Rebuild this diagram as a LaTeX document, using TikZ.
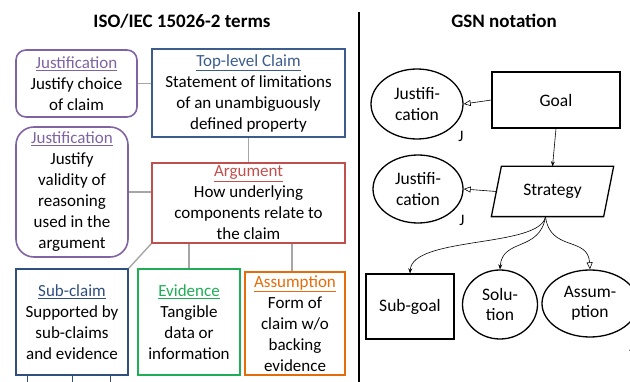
\documentclass[tikz,border=0pt]{standalone}
\usepackage{fontspec}
\setmainfont{Carlito}
\usetikzlibrary{shapes.geometric,arrows.meta}
\definecolor{jpurple}{HTML}{8064A2}
\definecolor{tblue}{HTML}{3B5C8C}
\definecolor{sblue}{HTML}{2F4F80}
\definecolor{ared}{HTML}{C0504D}
\definecolor{egreen}{HTML}{1FAE55}
\definecolor{aorange}{HTML}{E46C0A}
\definecolor{cgray}{HTML}{A6A6A6}
\tikzset{
  lbox/.style={draw, line width=1.6pt, inner sep=0pt, align=center,
    font=\fontsize{17}{21}\selectfont},
  conn/.style={draw=cgray, line width=1.4pt},
  gsn/.style={draw, line width=1.3pt, inner sep=0pt, align=center,
    font=\fontsize{17.5}{20.5}\selectfont},
  gell/.style={gsn, ellipse},
  gline/.style={draw, line width=0.6pt},
  openarr/.style={gline, -{Triangle[open, length=7pt, width=6pt]}},
  fillarr/.style={gline, -{Stealth[length=5pt, width=4pt]}},
  lab/.style={font=\fontsize{16}{18}\selectfont, inner sep=0pt},
  ttl/.style={font=\fontsize{19}{22}\selectfont\bfseries, inner sep=0pt}
}
\begin{document}
\begin{tikzpicture}[x=1pt, y=-1pt]
\useasboundingbox (0,0) rectangle (630,382);
% titles and divider
\node[ttl] (t1) at (182,21) {ISO/IEC 15026-2 terms};
\node[ttl] (t2) at (504,21) {GSN notation};
\draw[line width=1.2pt] (359,12) -- (359,382);
% left side boxes
\node[lbox, draw=jpurple, rounded corners=10pt, minimum width=121pt, minimum height=67pt] (j1) at (76.5,83.5)
  {{\color{jpurple}\underline{Justification}}\\Justify choice\\of claim};
\node[lbox, draw=tblue, minimum width=193pt, minimum height=88pt] (tlc) at (248.5,93)
  {{\color{tblue}\underline{Top-level Claim}}\\Statement of limitations\\of an unambiguously\\defined property};
\node[lbox, draw=jpurple, rounded corners=18pt, minimum width=112pt, minimum height=130pt] (j2) at (72,192)
  {{\color{jpurple}\underline{Justification}}\\Justify\\validity of\\reasoning\\used in the\\argument};
\node[lbox, draw=ared, minimum width=193pt, minimum height=80pt] (arg) at (248.5,203)
  {{\color{ared}\underline{Argument}}\\How underlying\\components relate to\\the claim};
\node[lbox, draw=sblue, minimum width=112pt, minimum height=106pt] (sub) at (72,322)
  {{\color{sblue}\underline{Sub-claim}}\\Supported by\\sub-claims\\and evidence};
\node[lbox, draw=egreen, minimum width=102pt, minimum height=106pt] (evid) at (189,322)
  {{\color{egreen}\underline{Evidence}}\\Tangible\\data or\\information};
\node[lbox, draw=aorange, minimum width=100pt, minimum height=103pt] (assu) at (295,323.5)
  {{\color{aorange}\underline{Assumption}}\\Form of\\claim w/o\\backing\\evidence};
% left connectors
\draw[conn] (j1.east) -- (j1.east -| tlc.west);
\draw[conn] (tlc.south) -- (arg.north);
\draw[conn] (j2.east) -- (j2.east -| arg.west);
\draw[conn] (arg.south west) -- (sub.north east);
\draw[conn] (evid.north |- arg.south) -- (evid.north);
\draw[conn] ([xshift=-3pt]assu.north |- arg.south) -- ([xshift=-3pt]assu.north);
\draw[draw=sblue, line width=1pt] ([xshift=-45pt]sub.south) -- +(0,8);
\draw[draw=sblue, line width=1pt] (sub.south) -- +(0,8);
\draw[draw=sblue, line width=1pt] ([xshift=38pt]sub.south) -- +(0,8);
% GSN side
\node[gell, minimum width=92pt, minimum height=70pt] (gj1) at (417,104) {Justifi-\\cation};
\node[lab] (jl1) at (461,136) {J};
\node[gsn, minimum width=128pt, minimum height=56pt] (goal) at (556,100) {Goal};
\node[gsn, draw=none, minimum width=111pt, minimum height=49pt] (strat) at (552.5,191.5) {Strategy};
\draw[line width=1.3pt] ([xshift=-5pt]strat.south west) -- ([xshift=5pt]strat.north west)
  -- ([xshift=5pt]strat.north east) -- ([xshift=-5pt]strat.south east) -- cycle;
\node[gell, minimum width=90pt, minimum height=68pt] (gj2) at (418,189) {Justifi-\\cation};
\node[lab] (jl2) at (462,220) {J};
\node[gsn, minimum width=88pt, minimum height=65pt] (subg) at (410,306.5) {Sub-goal};
\node[gell, minimum width=75pt, minimum height=69pt] (sol) at (500,304.5) {Solu-\\tion};
\node[gell, minimum width=96pt, minimum height=67pt] (gas) at (590,303.5) {Assum-\\ption};
\node[lab] (al) at (634,346) {A};
\coordinate (sb) at ([xshift=-7pt]strat.south);
\draw[openarr] (goal.west) -- (gj1.east);
\draw[fillarr] (goal.south) -- (strat.north);
\draw[openarr] (strat.west) -- (gj2.east);
\draw[fillarr] (sb) .. controls (540,248) and (412,236) .. (subg.north);
\draw[fillarr] (sb) .. controls (540,252) and (502,238) .. (sol.north);
\draw[openarr] (sb) .. controls (550,252) and (588,236) .. (gas.north);
\end{tikzpicture}
\end{document}
